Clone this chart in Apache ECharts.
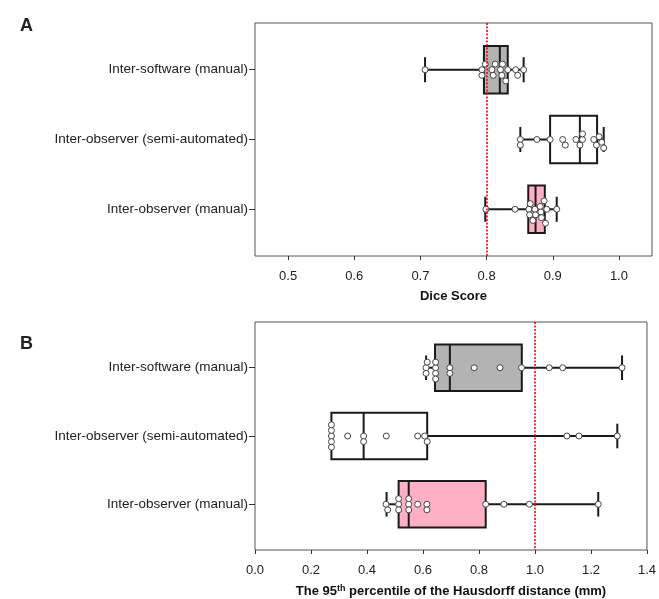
<!DOCTYPE html>
<html>
<head>
<meta charset="utf-8">
<script src="https://cdn.jsdelivr.net/npm/echarts@6/dist/echarts.min.js"></script>
<style>html,body{margin:0;padding:0;background:#fff}#c{width:659px;height:599px}</style>
</head>
<body>
<div id="c"></div>
<script>
// ---------- data ----------
const categories = ['Inter-software (manual)', 'Inter-observer (semi-automated)', 'Inter-observer (manual)'];
const boxFills = ['#b3b3b3', '#ffffff', '#ffb0c4'];

// Panel A: Dice score  [min, q1, median, q3, max]
const diceBoxSoftware = [0.707, 0.796, 0.820, 0.832, 0.856];
const diceBoxSemi     = [0.851, 0.896, 0.941, 0.967, 0.977];
const diceBoxManual   = [0.798, 0.863, 0.874, 0.888, 0.906];
const dicePtsSoftware = [0.707, 0.793, 0.798, 0.808, 0.810, 0.813, 0.821, 0.823, 0.824, 0.829, 0.832, 0.844, 0.847, 0.856, 0.793];
const dicePtsSemi     = [0.851, 0.851, 0.876, 0.896, 0.915, 0.919, 0.935, 0.941, 0.945, 0.945, 0.962, 0.966, 0.970, 0.974, 0.977];
const dicePtsManual   = [0.799, 0.843, 0.864, 0.865, 0.866, 0.870, 0.873, 0.874, 0.881, 0.882, 0.883, 0.887, 0.889, 0.891, 0.906];
const diceTicks = [0.5, 0.6, 0.7, 0.8, 0.9, 1.0];
const diceRef = 0.8;

// Panel B: 95th percentile Hausdorff distance (mm)
const hdBoxSoftware = [0.611, 0.643, 0.696, 0.953, 1.311];
const hdBoxSemi     = [0.273, 0.273, 0.388, 0.615, 1.294];
const hdBoxManual   = [0.470, 0.513, 0.549, 0.824, 1.226];
const hdPtsSoftware = [0.611, 0.611, 0.615, 0.645, 0.645, 0.645, 0.645, 0.696, 0.696, 0.783, 0.875, 0.952, 1.051, 1.099, 1.311];
const hdPtsSemi     = [0.273, 0.273, 0.273, 0.273, 0.273, 0.331, 0.388, 0.388, 0.469, 0.581, 0.606, 0.615, 1.114, 1.157, 1.294];
const hdPtsManual   = [0.474, 0.468, 0.513, 0.513, 0.513, 0.549, 0.549, 0.549, 0.581, 0.614, 0.614, 0.824, 0.889, 0.980, 1.226];
const hdTicks = [0.0, 0.2, 0.4, 0.6, 0.8, 1.0, 1.2, 1.4];
const hdRef = 1.0;

// ---------- chart ----------
const FONT = '"Liberation Sans", Arial, Helvetica, sans-serif';
const chart = echarts.init(document.getElementById('c'), null, {renderer: 'canvas'});
const catPos = [1, 2, 3];

function boxData(boxes) {
  return boxes.map((b, i) => [catPos[i]].concat(b));
}

function renderBox(params, api) {
  const y = api.value(0);
  const mn = api.value(1), q1 = api.value(2), md = api.value(3), q3 = api.value(4), mx = api.value(5);
  const pMin = api.coord([mn, y]), pQ1 = api.coord([q1, y]), pMd = api.coord([md, y]);
  const pQ3 = api.coord([q3, y]), pMax = api.coord([mx, y]);
  const hb = api.size([0, 0.34])[1];
  const hc = api.size([0, 0.18])[1];
  const stroke = {stroke: '#1a1a1a', lineWidth: 2};
  const cy = pMd[1];
  return {
    type: 'group',
    children: [
      {type: 'line', shape: {x1: pMin[0], y1: cy, x2: pQ1[0], y2: cy}, style: stroke},
      {type: 'line', shape: {x1: pQ3[0], y1: cy, x2: pMax[0], y2: cy}, style: stroke},
      {type: 'line', shape: {x1: pMin[0], y1: cy - hc, x2: pMin[0], y2: cy + hc}, style: stroke},
      {type: 'line', shape: {x1: pMax[0], y1: cy - hc, x2: pMax[0], y2: cy + hc}, style: stroke},
      {type: 'rect', shape: {x: pQ1[0], y: cy - hb, width: pQ3[0] - pQ1[0], height: 2 * hb},
        style: {fill: boxFills[params.dataIndex], stroke: '#1a1a1a', lineWidth: 2}},
      {type: 'line', shape: {x1: pMd[0], y1: cy - hb, x2: pMd[0], y2: cy + hb}, style: stroke}
    ]
  };
}

function xAxisCfg(gi, min, max, ticks, nameText) {
  return {
    type: 'value', gridIndex: gi, min: min, max: max,
    name: nameText, nameLocation: 'middle', nameGap: 34,
    nameTextStyle: {fontFamily: FONT, fontWeight: 'bold', fontSize: 13, color: '#111',
      rich: {
        a: {fontFamily: FONT, fontWeight: 'bold', fontSize: 13, color: '#111'},
        sup: {fontFamily: FONT, fontWeight: 'bold', fontSize: 9, color: '#111', verticalAlign: 'bottom', padding: [0, 0, 6, 0]}
      }},
    axisLine: {show: false},
    axisTick: {show: true, customValues: ticks, length: 4, lineStyle: {color: '#333', width: 1}},
    splitLine: {show: false},
    axisLabel: {customValues: ticks, formatter: v => Number(v).toFixed(1),
      fontFamily: FONT, fontSize: 13, color: '#222', margin: 14}
  };
}
function yAxisCfg(gi) {
  return {
    type: 'value', gridIndex: gi, min: 0.33, max: 3.67, inverse: true,
    axisLine: {show: false},
    splitLine: {show: false},
    axisTick: {show: true, customValues: catPos, length: 6, lineStyle: {color: '#333', width: 1}},
    axisLabel: {customValues: catPos, formatter: v => categories[Math.round(v) - 1] || '',
      fontFamily: FONT, fontSize: 13.5, color: '#222', margin: 7}
  };
}

const baseOption = {
  animation: false,
  title: [
    {text: 'A', left: 15, top: 12, textStyle: {fontFamily: FONT, fontSize: 18, fontWeight: 'bold', color: '#222'}},
    {text: 'B', left: 15, top: 330, textStyle: {fontFamily: FONT, fontSize: 18, fontWeight: 'bold', color: '#222'}}
  ],
  grid: [
    {left: 255, top: 23, right: 7, height: 233, show: true, borderColor: '#555', borderWidth: 1, backgroundColor: 'transparent'},
    {left: 255, top: 322, right: 10, height: 230, show: true, borderColor: '#555', borderWidth: 1, backgroundColor: 'transparent'}
  ],
  xAxis: [
    xAxisCfg(0, 0.45, 1.05, diceTicks, 'Dice Score'),
    xAxisCfg(1, 0, 1.4, hdTicks, '{a|The 95}{sup|th}{a| percentile of the Hausdorff distance (mm)}')
  ],
  yAxis: [yAxisCfg(0), yAxisCfg(1)],
  series: [
    {type: 'line', xAxisIndex: 0, yAxisIndex: 0, data: [], z: 1, silent: true,
      markLine: {symbol: 'none', silent: true, label: {show: false},
        lineStyle: {color: '#ff0000', type: [2, 1.5], width: 1.6}, data: [{xAxis: diceRef}]}},
    {type: 'line', xAxisIndex: 1, yAxisIndex: 1, data: [], z: 1, silent: true,
      markLine: {symbol: 'none', silent: true, label: {show: false},
        lineStyle: {color: '#ff0000', type: [2, 1.5], width: 1.6}, data: [{xAxis: hdRef}]}},
    {type: 'custom', xAxisIndex: 0, yAxisIndex: 0, z: 2, renderItem: renderBox,
      data: boxData([diceBoxSoftware, diceBoxSemi, diceBoxManual])},
    {type: 'custom', xAxisIndex: 1, yAxisIndex: 1, z: 2, renderItem: renderBox,
      data: boxData([hdBoxSoftware, hdBoxSemi, hdBoxManual])},
    {id: 'ptsA', type: 'scatter', xAxisIndex: 0, yAxisIndex: 0, z: 3, data: [], symbolSize: 6,
      itemStyle: {color: '#fff', borderColor: '#444', borderWidth: 1, opacity: 1}},
    {id: 'ptsB', type: 'scatter', xAxisIndex: 1, yAxisIndex: 1, z: 3, data: [], symbolSize: 6,
      itemStyle: {color: '#fff', borderColor: '#444', borderWidth: 1, opacity: 1}}
  ]
};
chart.setOption(baseOption);

// beeswarm layout computed in pixel space
function swarm(gi, values, y, d) {
  const toPx = v => chart.convertToPixel({gridIndex: gi}, [v, y])[0];
  const pxPerUnit = Math.abs(chart.convertToPixel({gridIndex: gi}, [0.5, 2])[1] - chart.convertToPixel({gridIndex: gi}, [0.5, 1])[1]);
  const idx = values.map((v, i) => i).sort((a, b) => values[a] - values[b]);
  const placed = [];
  const out = [];
  const cands = [0];
  for (let j = 1; j < 40; j++) cands.push(j * d / 2, -j * d / 2);
  for (const i of idx) {
    const x = toPx(values[i]);
    let yy = 0;
    for (const c of cands) {
      if (placed.every(p => (p.x - x) * (p.x - x) + (p.y - c) * (p.y - c) >= d * d * 0.95)) { yy = c; break; }
    }
    placed.push({x: x, y: yy});
    out.push([values[i], y + yy / pxPerUnit]);
  }
  return out;
}
const D = 5.6;
const ptsA = [].concat(swarm(0, dicePtsSoftware, 1, D), swarm(0, dicePtsSemi, 2, D), swarm(0, dicePtsManual, 3, D));
const ptsB = [].concat(swarm(1, hdPtsSoftware, 1, D), swarm(1, hdPtsSemi, 2, D), swarm(1, hdPtsManual, 3, D));
chart.setOption({series: [{id: 'ptsA', data: ptsA}, {id: 'ptsB', data: ptsB}]});
</script>
</body>
</html>
